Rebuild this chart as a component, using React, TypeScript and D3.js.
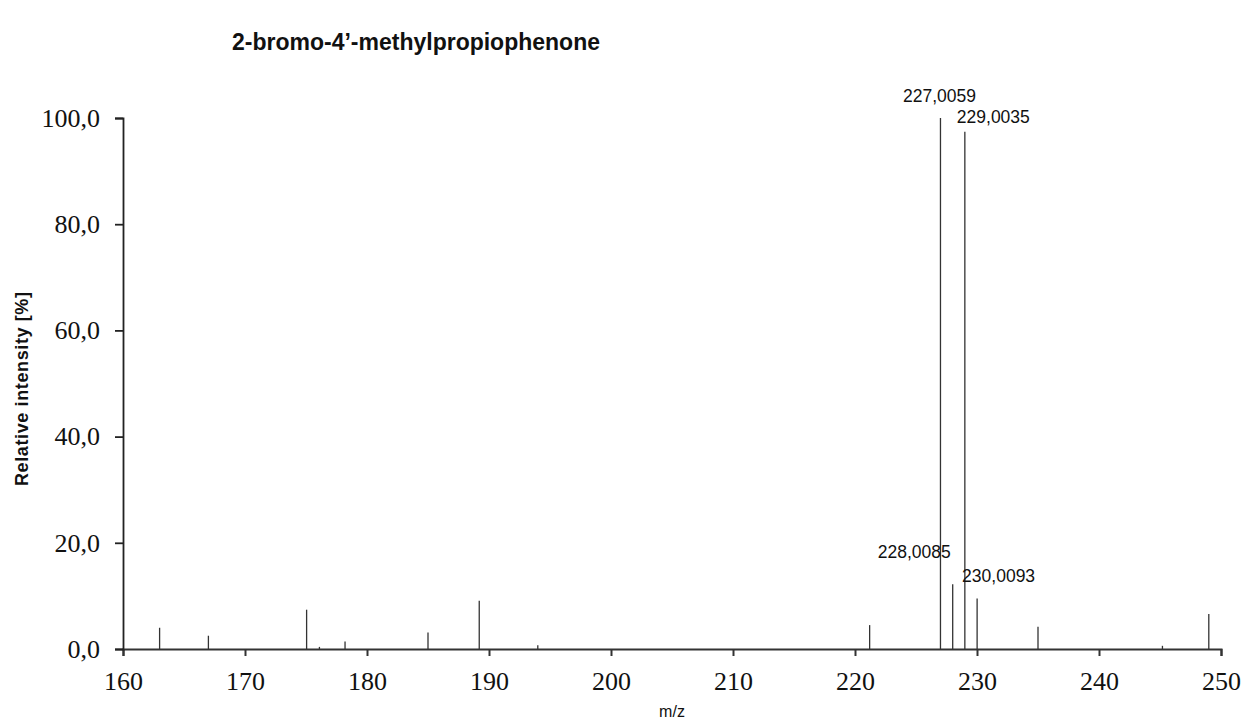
import * as d3 from "d3";
import { useEffect, useRef } from "react";

// spectrum peaks
const peakMz = [163, 167, 175.05, 176.1, 178.2, 185, 189.2, 194, 221.2, 227.0059, 228.0085, 229.0035, 230.0093, 235, 245.2, 249];
const peakIntensity = [4.0, 2.5, 7.4, 0.4, 1.4, 3.1, 9.1, 0.7, 4.5, 100, 12.2, 97.4, 9.5, 4.2, 0.6, 6.6];

const labelMz = [227.0059, 229.0035, 228.0085, 230.0093];
const labelText = ["227,0059", "229,0035", "228,0085", "230,0093"];

const xTicks = [160, 170, 180, 190, 200, 210, 220, 230, 240, 250];
const yTicks = [0, 20, 40, 60, 80, 100];

const W = 1247;
const H = 720;
const pad = { top: 118, right: 26, bottom: 71, left: 123 };

// where each label sits relative to its peak top
const labelPlace: Record<string, { anchor: string; dx: number; dy: number }> = {
  "227,0059": { anchor: "middle", dx: -1, dy: -16 },
  "229,0035": { anchor: "start", dx: -8, dy: -9 },
  "228,0085": { anchor: "end", dx: -2, dy: -26 },
  "230,0093": { anchor: "start", dx: -15, dy: -17 },
};

export default function App() {
  const svgRef = useRef<SVGSVGElement>(null);

  useEffect(() => {
    const svg = d3.select(svgRef.current);
    svg.selectAll("*").remove();

    const innerW = W - pad.left - pad.right;
    const innerH = H - pad.top - pad.bottom;

    const x = d3.scaleLinear().domain([160, 250]).range([pad.left, pad.left + innerW]);
    const y = d3.scaleLinear().domain([0, 100]).range([pad.top + innerH, pad.top]);

    // peaks
    svg
      .append("g")
      .selectAll("line")
      .data(peakMz)
      .join("line")
      .attr("x1", (d) => x(d))
      .attr("x2", (d) => x(d))
      .attr("y1", y(0))
      .attr("y2", (d, i) => y(peakIntensity[i]))
      .attr("stroke", "#333")
      .attr("stroke-width", 1.3);

    // axes
    const xAxis = svg
      .append("g")
      .attr("transform", `translate(0,${y(0)})`)
      .call(d3.axisBottom(x).tickValues(xTicks).tickSize(7).tickSizeOuter(7).tickPadding(16));
    xAxis.select(".domain").attr("stroke", "#333").attr("stroke-width", 2);
    xAxis.selectAll(".tick line").attr("stroke", "#333").attr("stroke-width", 2);
    xAxis
      .selectAll(".tick text")
      .attr("font-family", "'Liberation Serif', 'Times New Roman', serif")
      .attr("font-size", 26)
      .attr("fill", "#111");

    const yAxis = svg
      .append("g")
      .attr("transform", `translate(${x(160)},0)`)
      .call(
        d3
          .axisLeft(y)
          .tickValues(yTicks)
          .tickSize(8)
          .tickSizeOuter(8)
          .tickPadding(15)
          .tickFormat((d) => (d as number).toFixed(1).replace(".", ","))
      );
    yAxis.select(".domain").attr("stroke", "#222").attr("stroke-width", 1.8);
    yAxis.selectAll(".tick line").attr("stroke", "#222").attr("stroke-width", 1.8);
    yAxis
      .selectAll(".tick text")
      .attr("font-family", "'Liberation Serif', 'Times New Roman', serif")
      .attr("font-size", 26)
      .attr("fill", "#111");

    // peak labels
    svg
      .append("g")
      .selectAll("text")
      .data(labelMz)
      .join("text")
      .each(function (d, i) {
        const t = labelText[i];
        const p = labelPlace[t];
        const k = peakMz.indexOf(d);
        d3.select(this)
          .attr("x", x(d) + p.dx)
          .attr("y", y(peakIntensity[k]) + p.dy)
          .attr("text-anchor", p.anchor)
          .text(t);
      })
      .attr("font-family", "'Liberation Sans', Arial, sans-serif")
      .attr("font-size", 17.5)
      .attr("fill", "#111");

    // titles
    svg
      .append("text")
      .attr("x", 232)
      .attr("y", 50)
      .attr("font-family", "'Liberation Sans', Arial, sans-serif")
      .attr("font-weight", "bold")
      .attr("font-size", 23)
      .attr("fill", "#111")
      .text("2-bromo-4\u2019-methylpropiophenone");

    svg
      .append("text")
      .attr("x", (x(160) + x(250)) / 2)
      .attr("y", 717)
      .attr("text-anchor", "middle")
      .attr("font-family", "'Liberation Sans', Arial, sans-serif")
      .attr("font-size", 16)
      .attr("fill", "#111")
      .text("m/z");

    svg
      .append("text")
      .attr("transform", `translate(28,${389}) rotate(-90)`)
      .attr("text-anchor", "middle")
      .attr("font-family", "'Liberation Sans', Arial, sans-serif")
      .attr("font-weight", "bold")
      .attr("font-size", 18)
      .attr("textLength", 194)
      .attr("lengthAdjust", "spacing")
      .attr("fill", "#111")
      .text("Relative intensity [%]");
  }, []);

  return (
    <div style={{ position: "absolute", left: 0, top: 0, background: "#fff" }}>
      <svg ref={svgRef} width={W} height={H} style={{ display: "block" }} />
    </div>
  );
}
